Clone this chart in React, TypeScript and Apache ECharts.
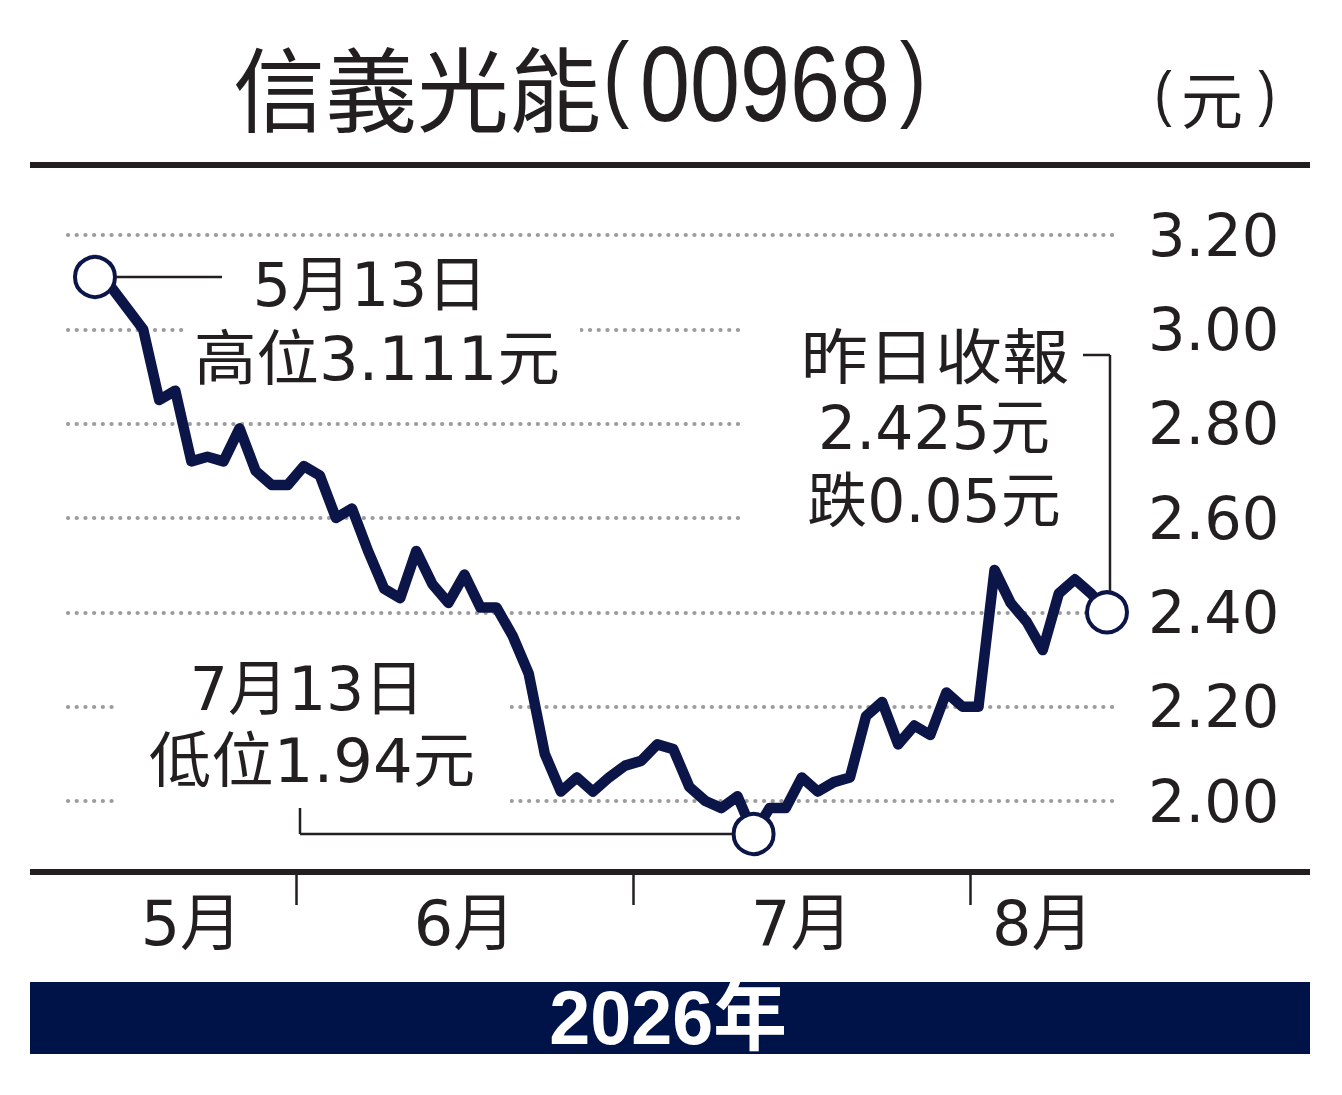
import { useEffect, useRef } from 'react'
import * as echarts from 'echarts'

// trading days, May 13 - Aug 13 2026
const mayDays = ['5/13', '5/14', '5/15', '5/18', '5/19', '5/20', '5/21', '5/22', '5/25', '5/26', '5/27', '5/28', '5/29']
const juneDays = ['6/1', '6/2', '6/3', '6/4', '6/5', '6/8', '6/9', '6/10', '6/11', '6/12', '6/15', '6/16', '6/17', '6/18', '6/22', '6/23', '6/24', '6/25', '6/26', '6/29', '6/30']
const julyDays = ['7/2', '7/3', '7/6', '7/7', '7/8', '7/9', '7/10', '7/13', '7/14', '7/15', '7/16', '7/17', '7/20', '7/21', '7/23', '7/24', '7/27', '7/28', '7/29', '7/30', '7/31']
const augDays = ['8/3', '8/4', '8/5', '8/6', '8/7', '8/10', '8/11', '8/12', '8/13']
const dates = [...mayDays, ...juneDays, ...julyDays, ...augDays]

const mayCloses = [3.111, 3.09, 3.045, 3.0, 2.85, 2.87, 2.72, 2.73, 2.72, 2.79, 2.7, 2.67, 2.67]
const juneCloses = [2.71, 2.69, 2.6, 2.62, 2.53, 2.45, 2.43, 2.53, 2.46, 2.42, 2.48, 2.41, 2.41, 2.35, 2.27, 2.1, 2.02, 2.05, 2.02, 2.05, 2.075]
const julyCloses = [2.085, 2.12, 2.11, 2.03, 2.0, 1.985, 2.01, 1.93, 1.985, 1.985, 2.05, 2.02, 2.04, 2.05, 2.18, 2.21, 2.12, 2.16, 2.14, 2.23, 2.2]
const augCloses = [2.2, 2.49, 2.42, 2.38, 2.32, 2.44, 2.47, 2.44, 2.4]
const closes = [...mayCloses, ...juneCloses, ...julyCloses, ...augCloses]

const monthNames = ['5月', '6月', '7月', '8月']
const yMin = 2.0
const yMax = 3.2
const yStep = 0.2

const title = '信義光能'
const stockCode = '00968'
const unitLabel = '元'
const yearLabel = '2026年'
const highNote = ['5月13日', '高位3.111元']
const lowNote = ['7月13日', '低位1.94元']
const lastNote = ['昨日收報', '2.425元', '跌0.05元']

const NAVY = '#0b1547'
const BAND = '#001348'
const INK = '#231f20'
const DOTS = '#9c9c9c'
const CJK = '"Noto Sans CJK TC", "Noto Sans CJK SC", sans-serif'
const NUM = `"DejaVu Sans", ${CJK}`
const ARIAL = '"Liberation Sans", sans-serif'

export default function App() {
  const chartRef = useRef<HTMLDivElement>(null)

  useEffect(() => {
    document.body.style.margin = '0'
    if (!chartRef.current) return
    const chart = echarts.init(chartRef.current, undefined, { renderer: 'svg' })

    // month label / tick positions from the trading-day list
    const monthIdx: number[][] = [[], [], [], []]
    dates.forEach((d, i) => monthIdx[Number(d.split('/')[0]) - 5].push(i))
    const mids = monthIdx.map((m) => (m[0] + m[m.length - 1]) / 2)
    const bounds = monthIdx.slice(1).map((m, k) => (monthIdx[k][monthIdx[k].length - 1] + m[0]) / 2)

    const hiIdx = closes.indexOf(Math.max(...closes))
    const loIdx = closes.indexOf(Math.min(...closes))
    const lastIdx = closes.length - 1

    chart.setOption({
      animation: false,
      backgroundColor: '#fff',
      grid: { left: 68, right: 222, top: 235, bottom: 294 },
      xAxis: {
        type: 'value',
        min: -1.68,
        max: lastIdx + 0.81,
        offset: 73,
        axisLine: { show: false, onZero: false },
        axisTick: { show: true, customValues: bounds, length: 31, lineStyle: { color: INK, width: 2.5 } },
        axisLabel: {
          customValues: mids,
          formatter: (v: number) => monthNames[mids.indexOf(v)] ?? '',
          margin: 18,
          color: INK,
          fontSize: 62,
          fontFamily: NUM,
        },
        splitLine: { show: false },
      },
      yAxis: {
        type: 'value',
        position: 'right',
        min: yMin,
        max: yMax,
        interval: yStep,
        axisLine: { show: false },
        axisTick: { show: false },
        axisLabel: { formatter: (v: number) => v.toFixed(2), margin: 28, color: INK, fontSize: 59, fontFamily: NUM },
        splitLine: { lineStyle: { color: DOTS, width: 4.2, type: [0.1, 8.6], cap: 'round' } },
      },
      series: [
        {
          type: 'line',
          data: closes.map((v, i) => [i, v]),
          showSymbol: false,
          clip: false,
          z: 3,
          lineStyle: { color: NAVY, width: 10.5, join: 'round' },
        },
        {
          type: 'scatter',
          data: [hiIdx, loIdx, lastIdx].map((i) => [i, closes[i]]),
          symbol: 'circle',
          symbolSize: 40,
          clip: false,
          z: 4,
          itemStyle: { color: '#fff', borderColor: NAVY, borderWidth: 4, opacity: 1 },
        },
      ],
    })

    const px = (i: number) => chart.convertToPixel({ seriesIndex: 0 }, [i, closes[i]]) as number[]
    const hi = px(hiIdx)
    const lo = px(loIdx)
    const last = px(lastIdx)
    const r = 21

    const text = (t: string, x: number, y: number, size: number, family: string, extra: Record<string, unknown> = {}, scaleX = 1) => ({
      type: 'text',
      z: 10,
      x,
      y,
      scaleX,
      style: { text: t, x: 0, y: 0, fill: INK, fontSize: size, fontFamily: family, align: 'center', verticalAlign: 'middle', ...extra },
    })
    const rule = (x1: number, y1: number, x2: number, y2: number) => ({
      type: 'line',
      z: 10,
      shape: { x1, y1, x2, y2 },
      style: { stroke: INK, lineWidth: 2.5 },
    })
    const mask = (x: number, y: number, width: number, height: number) => ({
      type: 'rect',
      z: 1,
      shape: { x, y, width, height },
      style: { fill: '#fff' },
    })

    chart.setOption({
      graphic: [
        // title
        text(title, 233, 84, 92, CJK, { align: 'left' }),
        text('(', 616, 76, 94, ARIAL, {}, 0.85),
        text(stockCode, 640, 84, 107, ARIAL, { align: 'left' }, 0.84),
        text(')', 913, 76, 94, ARIAL, {}, 0.85),
        text('(', 1163, 92, 62, ARIAL, {}, 0.85),
        text(unitLabel, 1212, 97, 62, CJK),
        text(')', 1267, 92, 62, ARIAL, {}, 0.85),
        { type: 'rect', z: 10, shape: { x: 30, y: 162, width: 1280, height: 6 }, style: { fill: INK } },
        // axis rule and year band
        { type: 'rect', z: 10, shape: { x: 30, y: 869, width: 1280, height: 6 }, style: { fill: INK } },
        { type: 'rect', z: 10, shape: { x: 30, y: 982, width: 1280, height: 72 }, style: { fill: BAND } },
        text(yearLabel, 668, 1018, 76, `"Liberation Sans", ${CJK}`, { fill: '#fff', fontWeight: 'bold' }, 0.97),
        // note backgrounds
        mask(185, 300, 395, 100),
        mask(118, 650, 392, 165),
        mask(740, 300, 380, 245),
        // high note
        text(highNote[0], 370, 285, 60, NUM),
        text(highNote[1], 377, 359, 60, NUM, {}, 1.04),
        rule(hi[0] + r, hi[1], 222, hi[1]),
        // low note
        text(lowNote[0], 307, 689, 60, NUM),
        text(lowNote[1], 312, 761, 60, NUM, {}, 1.04),
        rule(300, 808, 300, lo[1]),
        rule(300, lo[1], lo[0] - r, lo[1]),
        // last close note
        text(lastNote[0], 935, 353, 60, CJK, {}, 1.12),
        text(lastNote[1], 934, 428, 60, NUM),
        text(lastNote[2], 934, 501, 60, NUM),
        rule(1083, 355, last[0] + 3, 355),
        rule(last[0] + 3, 355, last[0] + 3, last[1] - r),
      ],
    })

    return () => chart.dispose()
  }, [])

  return <div ref={chartRef} style={{ width: 1342, height: 1095 }} />
}
